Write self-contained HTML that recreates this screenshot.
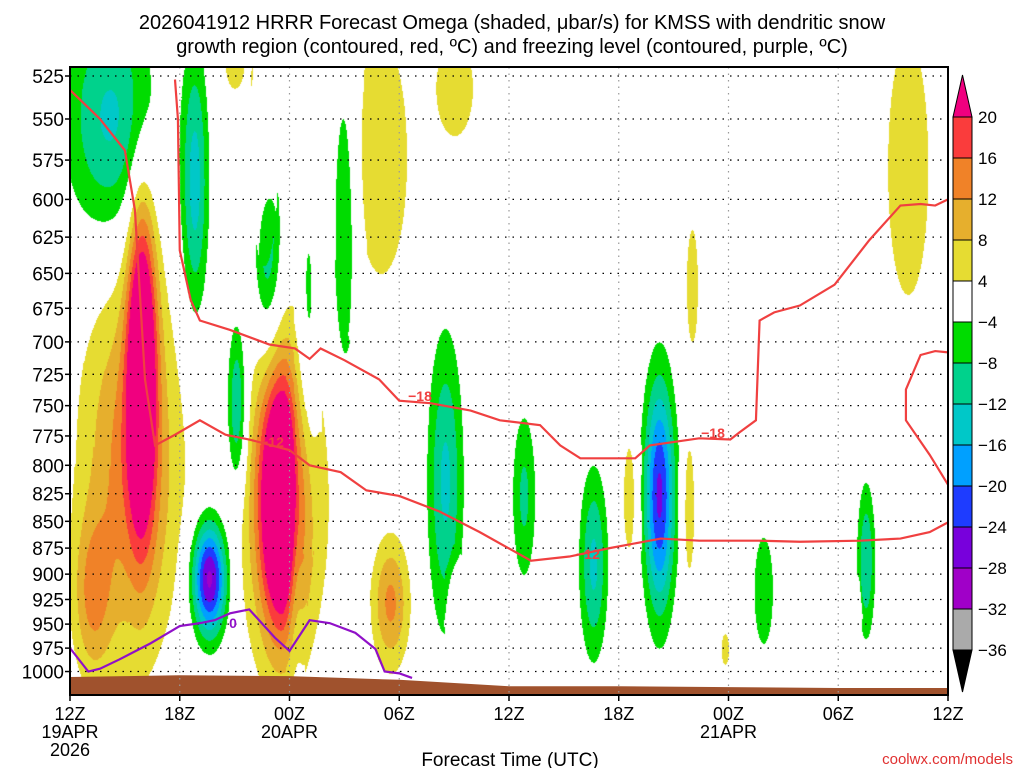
<!DOCTYPE html>
<html><head><meta charset="utf-8"><style>
body{margin:0;background:#fff;width:1024px;height:768px;overflow:hidden;font-family:"Liberation Sans",sans-serif}
#wrap{position:relative;width:1024px;height:768px}
canvas{position:absolute;left:70px;top:67px}
svg{position:absolute;left:0;top:0}
</style></head><body>
<div id="wrap">
<canvas id="cv" width="878" height="628"></canvas>
<svg id="sv" width="1024" height="768">
<text x="512" y="29" font-size="20" text-anchor="middle">2026041912 HRRR Forecast Omega (shaded, μbar/s) for KMSS with dendritic snow</text>
<text x="512" y="53" font-size="20" text-anchor="middle">growth region (contoured, red, ºC) and freezing level (contoured, purple, ºC)</text>
<text x="510" y="766" font-size="19" text-anchor="middle">Forecast Time (UTC)</text>
<text x="1013" y="764" font-size="15" fill="#e03030" text-anchor="end">coolwx.com/models</text>
</svg>
</div>
<script>
const pTicks=[525,550,575,600,625,650,675,700,725,750,775,800,825,850,875,900,925,950,975,1000];
const xTickHours=[0,6,12,18,24,30,36,42,48];
const xTickLabels=[["12Z","19APR","2026"],["18Z"],["00Z","20APR"],["06Z"],["12Z"],["18Z"],["00Z","21APR"],["06Z"],["12Z"]];
// omega blobs: center hour, half-width hours, top p, bottom p, peak
const blobT=[2.2,3.3,3.9,6.8,7.6,9.1,10.8,11.6,11.5,12.3,15,13,17,17.5,20.5,21,21,24.8,28.6,30.6,32.2,34,33.8,37.9,43.5,45.8,35.8,43,9,10.6,1.2];
const blobW=[2.6,3.0,1.1,0.8,1.3,0.6,0.75,2.5,1.5,0.35,0.6,0.4,1.4,1.1,1.0,1.0,0.3,0.6,0.8,0.35,1.1,0.3,0.3,0.5,0.5,1.1,0.2,0.15,0.5,0.4,1.0];
const blobPTop=[480,640,560,505,830,680,570,690,690,760,525,620,505,860,690,505,900,760,800,780,700,620,780,865,815,505,960,920,505,520,850];
const blobPBot=[630,1005,910,690,985,830,710,1005,1000,960,720,790,650,1002,960,560,960,900,990,880,975,700,900,970,965,665,992,960,532,600,1000];
const blobAmp=[-13,14,30,-14,-30,-14,-11,12,30,-8,-9,-7,7,13,-13,7,7,-9,-13,6,-25,6,6,-8,-12,7,5,5,5,5,10];
const levels=[-36,-32,-28,-24,-20,-16,-12,-8,-4,4,8,12,16,20];
const colors=["#000000","#aaaaaa","#a000c8","#7800dc","#1e3cff","#00a0ff","#00c8c8","#00d28c","#00dc00","#ffffff","#e6dc32","#e6af2d","#f08228","#fa3c3c","#f0007f"];
// contour lines (hour, hPa)
const m12T=[0,1.64,3.0,3.55,4.1,4.65,5.74,7.1,8.5,9.8,12.0,13.1,14.8,16.2,18.0,20.2,22.4,25.2,27.3,29.5,32.3,34.4,37.7,39.9,43.2,45.4,47,48];
const m12P=[533,550,569,607,729,783,774,762,774,778,787,800,806,822,827,841,860,887,883,875,866,868,868,869,868,866,860,851];
const m18T=[5.74,5.9,6.0,6.6,7.1,8.75,10.9,12.3,13.1,13.7,15.0,16.9,18.0,19.7,21.9,23.5,25.7,26.8,27.9,30.9,31.7,34.4,36.1,36.6,37.5,37.7,38.5,39.9,41.8,43.7,45.4,46.5,47.3,48];
const m18P=[527,550,634,669,684,691,702,705,713,705,714,729,746,748,754,762,766,783,794,794,783,777,778,772,762,684,678,673,658,627,604,603,604,600];
const m18bT=[48,47.3,46.5,45.7,45.7,47.0,48];
const m18bP=[708,707,710,737,762,791,817];
const frzT=[0,1,1.64,2.7,4.4,6.0,7.1,7.9,8.75,9.8,11.2,12.0,13.1,14.2,15.6,16.7,17.2,18.0,18.7];
const frzP=[975,1000,997,987,970,952,949,946,939,935,964,978,946,949,959,976,1000,1002,1007];
const sfcT=[0,3,6,12,18,24,30,36,42,48];
const sfcP=[1006,1005,1004,1005,1009,1016,1016,1017,1018,1018];

const X0=70,X1=948,Y0=67,Y1=695;
function xs(h){return X0+h*(X1-X0)/48;}
function ys(p){return 76+Math.log(p/525)/0.001082;}
const NS="http://www.w3.org/2000/svg";
const sv=document.getElementById('sv');
function mk(tag,a,parent){const e=document.createElementNS(NS,tag);for(const k in a)e.setAttribute(k,a[k]);(parent||sv).appendChild(e);return e;}

// shading
const cv=document.getElementById('cv'),ctx=cv.getContext('2d');
const W=cv.width,H=cv.height,img=ctx.createImageData(W,H);
const bc=blobT.map((t,i)=>{const a=ys(blobPTop[i]),b=ys(blobPBot[i]);return {cx:xs(t)-X0,cy:(a+b)/2-Y0,hw:blobW[i]*(X1-X0)/48,hh:(b-a)/2,amp:blobAmp[i],k:Math.log(Math.abs(blobAmp[i])/4)};});
const rgb=colors.map(c=>[parseInt(c.substr(1,2),16),parseInt(c.substr(3,2),16),parseInt(c.substr(5,2),16)]);
for(let y=0;y<H;y++)for(let x=0;x<W;x++){
 let v=0;
 for(const b of bc){const dx=(x-b.cx)/b.hw,dy=(y-b.cy)/b.hh;const r2=dx*dx+dy*dy;if(r2<4)v+=Math.sign(b.amp)*4*Math.exp(b.k*(1-r2));}
 let li=levels.length;for(let j=0;j<levels.length;j++){if(v<levels[j]){li=j;break;}}
 const c=rgb[li],o=(y*W+x)*4;img.data[o]=c[0];img.data[o+1]=c[1];img.data[o+2]=c[2];img.data[o+3]=255;
}
ctx.putImageData(img,0,0);

// terrain
let tp=sfcT.map((t,i)=>xs(t)+','+ys(sfcP[i])).join(' ')+` ${X1},${Y1} ${X0},${Y1}`;
const terr=mk('polygon',{points:tp,fill:'#a0522d'});



// grid
pTicks.forEach(p=>{
 const g=mk('line',{x1:X0,x2:X1,y1:ys(p),y2:ys(p),stroke:'#000','stroke-width':1.3,'stroke-dasharray':'1.5 6'});
 
 
 const t=mk('text',{x:64,y:ys(p)+7,'font-size':19,'text-anchor':'end'});t.textContent=p;
 
 
 mk('line',{x1:X0-5,x2:X0,y1:ys(p),y2:ys(p),stroke:'#000','stroke-width':1.5});
});
xTickHours.forEach((h,i)=>{
 if(h>0&&h<48){const g=mk('line',{x1:xs(h),x2:xs(h),y1:Y0,y2:Y1,stroke:'#999','stroke-width':1.2,'stroke-dasharray':'1.5 5'});
 
 }
 mk('line',{x1:xs(h),x2:xs(h),y1:Y1,y2:Y1+6,stroke:'#000','stroke-width':1.5});
 xTickLabels[i].forEach((s,j)=>{const t=mk('text',{x:xs(h),y:720+j*18,'font-size':18,'text-anchor':'middle'});t.textContent=s;
 
 });
});

// lines
function line(T,P,col,name){const l=mk('polyline',{points:T.map((t,i)=>xs(t)+','+ys(P[i])).join(' '),fill:'none',stroke:col,'stroke-width':2.2});
 
 }
line(m12T,m12P,'#f04040','contour-minus-12');
line(m18T,m18P,'#f04040','contour-minus-18');
line(m18bT,m18bP,'#f04040','contour-minus-18-right');
line(frzT,frzP,'#9010c8','freezing-level');
function lab(x,y,s,c){const t=mk('text',{x:x,y:y+5,'font-size':14,'font-weight':'bold',fill:c,'text-anchor':'middle'});t.textContent=s;
 
 }
lab(420,396,'−18','#f04040');lab(272,442,'−12','#f04040');lab(588,554,'−12','#f04040');lab(713,433,'−18','#f04040');lab(233,623,'0','#9010c8');

// frame
const fr=mk('rect',{x:X0,y:Y0,width:X1-X0,height:Y1-Y0,fill:'none',stroke:'#000','stroke-width':2});



// colorbar
const cbL=953,cbW=19,cbTop=117,cbStep=41;
const cbLabels=[20,16,12,8,4,-4,-8,-12,-16,-20,-24,-28,-32,-36];
for(let k=0;k<13;k++){
 const ci=colors.length-2-k;
 const r=mk('rect',{x:cbL,y:cbTop+k*cbStep,width:cbW,height:cbStep,fill:colors[ci],stroke:'#000','stroke-width':1});
 
 
}
mk('polygon',{points:`${cbL},${cbTop} ${cbL+cbW},${cbTop} ${cbL+cbW/2},${cbTop-42}`,fill:colors[14],stroke:'#000'});
mk('polygon',{points:`${cbL},${cbTop+13*cbStep} ${cbL+cbW},${cbTop+13*cbStep} ${cbL+cbW/2},${cbTop+13*cbStep+42}`,fill:'#000',stroke:'#000'});
cbLabels.forEach((v,k)=>{const t=mk('text',{x:978,y:cbTop+k*cbStep+6,'font-size':17});t.textContent=(v<0?'−':'')+Math.abs(v);
 
 });
</script>
</body></html>
